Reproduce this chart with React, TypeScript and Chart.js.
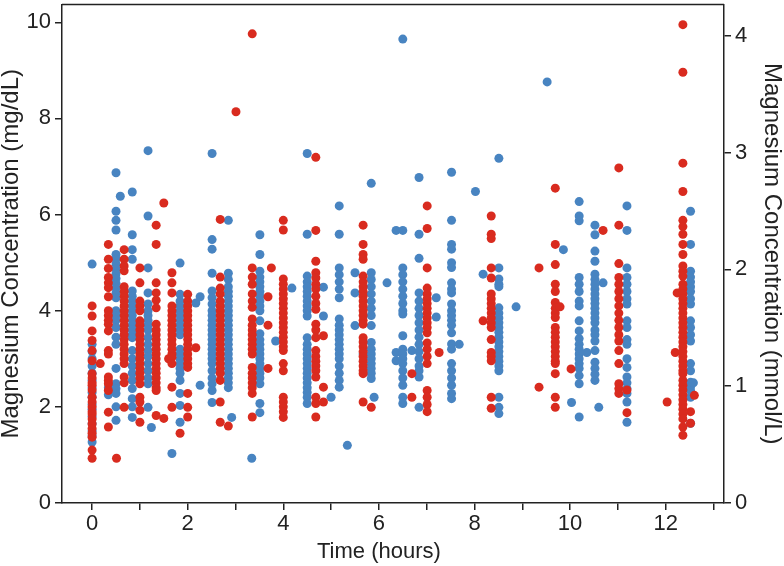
import React, { useEffect, useRef } from "react";
import { Chart, registerables } from "chart.js";

Chart.register(...registerables);

// Sampling times (hours) and Mg values (mg/dL) per column of points
const blueTimes = [0, 0.34, 0.5, 0.59, 0.84, 1.17, 1.24, 1.67, 1.84, 2.17, 2.26, 2.51, 2.85, 2.92, 3.34, 3.51, 3.84, 4.18, 4.5, 4.84, 5.0, 5.17, 5.34, 5.5, 5.67, 5.84, 5.9, 6.17, 6.36, 6.5, 6.69, 6.84, 7.2, 7.52, 7.68, 8.02, 8.18, 8.51, 8.87, 9.52, 9.86, 10.03, 10.19, 10.35, 10.52, 10.6, 10.69, 11.19, 12.52, 12.58];
const blueValues = [
  [4.97, 3.3, 3.15, 3.0, 2.85, 2.7, 2.55, 2.4, 2.3, 2.2, 2.05, 1.95, 1.8, 1.65, 1.5, 1.4, 1.27],
  [2.4, 2.25],
  [6.87, 6.07, 5.88, 5.68, 5.17, 5.07, 4.97, 4.87, 4.77, 4.67, 4.57, 4.47, 4.37, 4.27, 4.0, 3.9, 3.8, 3.65, 3.45, 3.3, 2.8, 2.48, 2.38, 2.28, 2.0, 1.72],
  [6.38],
  [6.47, 5.58, 5.27, 5.07, 4.41, 4.3, 4.2, 4.1, 4.0, 3.9, 3.8, 3.7, 3.6, 3.5, 3.44, 3.17, 3.0, 2.85, 2.7, 2.55, 2.38, 2.17, 2.0, 1.78],
  [7.33, 5.97, 4.89, 4.37, 4.14, 4.0, 3.9, 3.8, 3.7, 3.6, 3.44, 3.3, 3.17, 3.05, 2.9, 2.75, 2.6, 2.48, 1.99],
  [1.57],
  [1.03],
  [4.99, 4.34, 4.2, 4.1, 4.0, 3.9, 3.8, 3.7, 3.6, 3.5, 3.2, 3.1, 3.0, 2.9, 2.8, 2.7, 2.55, 2.28, 2.03, 1.68],
  [4.16],
  [4.29, 2.45],
  [7.27, 5.48, 5.28, 4.78, 4.41, 4.27, 4.14, 4.0, 3.9, 3.8, 3.7, 3.6, 3.5, 3.4, 3.3, 3.2, 3.1, 3.0, 2.9, 2.75, 2.6, 2.48, 2.34, 2.09],
  [5.88, 4.78, 4.65, 4.5, 4.4, 4.3, 4.2, 4.1, 4.0, 3.9, 3.8, 3.7, 3.6, 3.5, 3.4, 3.3, 3.2, 3.1, 3.0, 2.9, 2.8, 2.7, 2.6, 2.5, 2.4],
  [1.78],
  [0.93],
  [5.58, 5.17, 4.82, 4.7, 4.6, 4.5, 4.4, 4.3, 4.2, 4.1, 4.0, 3.79, 3.52, 3.4, 3.3, 3.2, 3.1, 3.0, 2.9, 2.8, 2.7, 2.6, 2.48, 2.07, 1.88],
  [3.37],
  [4.47],
  [7.27, 5.59, 4.72, 4.6, 4.5, 4.4, 4.3, 4.2, 4.1, 4.0, 3.89, 3.44, 3.3, 3.2, 3.1, 3.0, 2.9, 2.8, 2.7, 2.6, 2.5, 2.4, 2.3, 2.2, 2.07],
  [4.49, 3.89],
  [2.2],
  [6.18, 5.59, 4.89, 4.75, 4.6, 4.45, 4.27, 3.83, 3.7, 3.6, 3.5, 3.4, 3.3, 3.2, 3.1, 3.0, 2.85, 2.7, 2.55, 2.41],
  [1.2],
  [4.79, 4.37, 3.69],
  [3.1],
  [6.65, 4.79, 4.65, 4.5, 4.35, 4.2, 4.05, 3.9, 3.69, 3.34, 3.2, 3.1, 3.0, 2.9, 2.8, 2.7, 2.59],
  [2.2],
  [4.58],
  [5.67, 3.13, 2.96],
  [9.65, 5.67, 4.89, 4.75, 4.6, 4.45, 4.3, 4.15, 4.0, 3.93, 3.48, 3.2, 3.1, 3.0, 2.9, 2.75, 2.6, 2.45, 2.2, 2.07],
  [3.17],
  [6.77, 5.59, 5.09, 4.37, 4.2, 4.05, 3.9, 3.75, 3.6, 3.45, 3.3, 3.15, 3.0, 2.85, 2.75, 2.62, 1.99],
  [4.27, 3.87],
  [6.88, 5.88, 5.38, 5.28, 5.0, 4.9, 4.58, 4.45, 4.37, 4.14, 4.0, 3.9, 3.8, 3.7, 3.54, 3.31, 3.2, 2.9, 2.75, 2.6, 2.45, 2.28, 2.17],
  [3.3],
  [6.48],
  [4.76],
  [7.17, 4.89, 4.66, 4.55, 4.5, 4.06, 3.95, 3.85, 3.75, 3.65, 3.55, 3.45, 3.35, 3.25, 3.15, 3.05, 2.95, 2.85, 2.75, 2.2, 1.99, 1.86],
  [4.08],
  [8.76],
  [5.27],
  [2.09],
  [6.27, 5.97, 5.87, 4.69, 4.55, 4.4, 4.2, 4.1, 3.79, 3.58, 3.42, 3.3, 3.2, 3.1, 3.0, 2.9, 2.8, 2.65, 2.48, 1.79],
  [3.13],
  [5.78, 5.58, 5.24, 5.03, 4.76, 4.65, 4.55, 4.45, 4.35, 4.25, 4.15, 4.05, 3.95, 3.85, 3.75, 3.6, 3.5, 3.37, 3.17, 2.93, 2.8, 2.68, 2.55],
  [1.99],
  [4.58],
  [6.18, 5.67, 4.89, 4.69, 4.55, 4.4, 4.25, 4.14, 3.79, 3.65, 3.4, 3.3, 3.0, 2.82, 2.62, 2.5, 2.38, 2.28, 2.1, 1.68],
  [6.07, 5.38, 4.82, 4.7, 4.6, 4.5, 4.4, 4.25, 4.14, 3.79, 3.65, 3.5, 3.37, 2.9, 2.75, 2.51, 2.42, 2.34, 2.2, 1.66],
  [2.5],
];

const redTimes = [0, 0.17, 0.34, 0.51, 0.67, 1.0, 1.34, 1.5, 1.6, 1.67, 1.84, 2.0, 2.17, 2.68, 2.85, 3.01, 3.35, 3.68, 3.75, 4.0, 4.68, 4.84, 5.67, 5.84, 6.69, 7.01, 7.26, 8.18, 8.35, 9.35, 9.69, 9.79, 10.02, 10.69, 11.02, 11.19, 12.03, 12.2, 12.24, 12.36, 12.52, 12.6];
const redValues = [
  [4.1, 3.89, 3.58, 3.38, 3.17, 2.96, 2.69, 2.6, 2.5, 2.45, 2.35, 2.2, 2.1, 2.0, 1.9, 1.85, 1.75, 1.65, 1.55, 1.45, 1.37, 1.1, 0.93],
  [2.9],
  [5.38, 5.07, 4.88, 4.69, 4.58, 4.48, 4.29, 4.0, 3.9, 3.8, 3.72, 3.58, 3.17, 3.1, 2.62, 2.55, 2.48, 2.34, 1.89, 1.58],
  [0.93],
  [5.27, 5.07, 4.93, 4.83, 4.5, 4.4, 4.3, 4.2, 4.1, 4.0, 3.9, 3.8, 3.7, 3.6, 3.5, 3.4, 3.3, 3.2, 3.1, 3.0, 2.9, 2.62, 2.5, 1.99],
  [4.89, 4.58, 4.2, 4.1, 4.0, 3.79, 3.7, 3.6, 3.5, 3.4, 3.3, 3.2, 3.1, 3.0, 2.9, 2.8, 2.7, 2.6, 2.48, 2.2, 2.1, 1.93, 1.68],
  [5.78, 5.38, 4.58, 4.37, 4.22, 4.06, 3.72, 3.6, 3.5, 3.4, 3.3, 3.2, 3.1, 3.0, 2.9, 2.8, 2.7, 2.6, 2.5, 2.4, 2.34, 1.82],
  [6.24, 1.76],
  [3.0],
  [4.79, 4.58, 4.37, 4.1, 4.0, 3.9, 3.8, 3.7, 3.6, 3.5, 3.4, 3.3, 3.2, 3.1, 3.03, 2.9, 2.41, 1.99],
  [1.45],
  [4.34, 4.2, 4.1, 4.0, 3.9, 3.8, 3.7, 3.6, 3.5, 3.4, 3.3, 3.2, 3.1, 3.0, 2.9, 2.82, 2.28, 1.99, 1.79],
  [3.23],
  [5.9, 4.7, 4.47, 4.35, 4.2, 4.1, 4.0, 3.9, 3.8, 3.7, 3.6, 3.5, 3.4, 3.3, 3.2, 3.1, 3.0, 2.9, 2.8, 2.7, 2.55, 2.1, 1.68],
  [1.6],
  [8.14],
  [9.76, 4.89, 4.7, 4.55, 4.35, 4.2, 4.07, 3.83, 3.7, 3.6, 3.5, 3.4, 3.3, 3.2, 3.1, 2.82, 2.7, 2.6, 2.5, 2.4, 2.28, 1.79],
  [4.29, 3.7, 2.8],
  [4.89],
  [5.88, 5.68, 4.66, 4.55, 4.45, 4.35, 4.25, 4.15, 4.05, 3.95, 3.85, 3.75, 3.65, 3.55, 3.45, 3.35, 3.25, 3.17, 2.9, 2.75, 2.2, 2.1, 2.0, 1.9, 1.78],
  [7.19, 5.67, 5.03, 4.79, 4.68, 4.55, 4.45, 4.3, 4.15, 4.03, 3.72, 3.6, 3.44, 3.17, 3.05, 2.95, 2.85, 2.75, 2.62, 2.2, 2.07, 1.79],
  [3.48, 2.41, 2.1],
  [5.78, 5.38, 5.17, 5.07, 4.72, 4.6, 4.5, 4.4, 4.3, 4.2, 4.1, 4.0, 3.9, 3.8, 3.72, 3.44, 3.35, 3.25, 3.15, 3.05, 2.95, 2.85, 2.75, 2.69, 2.1],
  [1.99],
  [2.69, 2.2],
  [6.18, 5.71, 4.89, 4.47, 4.35, 4.25, 4.15, 4.05, 3.95, 3.85, 3.75, 3.65, 3.54, 3.33, 3.2, 3.05, 2.9, 2.34, 2.2, 2.05, 1.9],
  [3.13],
  [3.79],
  [5.97, 5.59, 5.5, 4.89, 4.68, 4.35, 4.25, 4.15, 4.05, 3.95, 3.85, 3.75, 3.65, 3.4, 3.13, 3.05, 2.96, 2.2, 1.97],
  [4.89, 2.41],
  [6.55, 5.38, 4.96, 4.55, 4.4, 4.17, 4.05, 3.95, 3.86, 3.65, 3.55, 3.45, 3.35, 3.25, 3.15, 3.05, 2.95, 2.9, 2.69, 2.2, 1.99],
  [4.08],
  [2.79],
  [5.67],
  [6.97, 5.78, 4.98, 4.69, 4.55, 4.4, 4.25, 4.1, 3.95, 3.8, 3.65, 3.5, 3.37, 3.17, 2.9, 2.48, 2.38, 2.28],
  [2.35, 1.88],
  [2.1],
  [3.13],
  [4.37],
  [9.95, 8.96, 7.07, 6.48, 5.88, 5.75, 5.59, 5.38, 5.17, 4.93, 4.82, 4.72, 4.55, 4.45, 4.35, 4.25, 4.15, 4.05, 3.95, 3.85, 3.75, 3.65, 3.55, 3.45, 3.35, 3.25, 3.15, 3.05, 2.95, 2.85, 2.75, 2.69, 2.55, 2.45, 2.35, 2.25, 2.15, 2.05, 1.95, 1.85, 1.75, 1.58, 1.41],
  [1.9, 1.66],
  [2.24],
];

const xTickLabels = ["0", "2", "4", "6", "8", "10", "12"];
const X_TITLE = "Time (hours)";
const X_TITLE_CENTER = 6; // title centred under the 0–12 h tick range
const MG_PER_MMOL = 2.43;
const Y_MAX = 10.37;

const BLUE = "#4884c1";
const RED = "#d92b1f";
const FONT = "'Liberation Sans', Arial, sans-serif";
const TICK_FONT = "'Liberation Sans Narrow', 'Arial Narrow', 'Liberation Sans', sans-serif";

function toPoints(times: number[], values: number[][]) {
  const pts: { x: number; y: number }[] = [];
  times.forEach((t, i) => values[i].forEach((v) => pts.push({ x: t, y: v })));
  return pts;
}

const framePlugin = {
  id: "frame",
  afterDraw(chart: any) {
    const { ctx, chartArea: a } = chart;
    ctx.save();
    ctx.strokeStyle = "#222";
    ctx.lineWidth = 1.5;
    ctx.beginPath();
    ctx.moveTo(a.left, a.top);
    ctx.lineTo(a.right, a.top);
    ctx.stroke();
    // x-axis title, centred on the labelled tick range
    const xs = chart.scales.x;
    ctx.fillStyle = "#222";
    ctx.font = `22px ${FONT}`;
    ctx.textAlign = "center";
    ctx.textBaseline = "middle";
    ctx.fillText(X_TITLE, xs.getPixelForValue(X_TITLE_CENTER), xs.bottom - 14);
    ctx.restore();
  },
};

const fitV = (w: number) => (s: any) => {
  s.width = w;
  s.paddingTop = 0;
  s.paddingBottom = 0;
};

export default function App() {
  const ref = useRef<HTMLCanvasElement>(null);
  useEffect(() => {
    if (!ref.current) return;
    const chart = new Chart(ref.current, {
      type: "scatter",
      data: {
        datasets: [
          {
            label: "red",
            data: toPoints(redTimes, redValues),
            backgroundColor: RED,
            borderWidth: 0,
            pointRadius: 4.5,
            yAxisID: "y",
          },
          {
            label: "blue",
            data: toPoints(blueTimes, blueValues),
            backgroundColor: BLUE,
            borderWidth: 0,
            pointRadius: 4.5,
            yAxisID: "y",
          },
        ],
      },
      options: {
        animation: false,
        responsive: false,
        devicePixelRatio: 1,
        layout: { padding: { top: 2, left: 0, right: 0, bottom: 0 } },
        plugins: { legend: { display: false }, tooltip: { enabled: false } },
        scales: {
          x: {
            type: "linear",
            min: -0.63,
            max: 13.22,
            afterFit: (s: any) => { s.height = 63; s.paddingLeft = 0; s.paddingRight = 0; },
            border: { display: true, color: "#222", width: 1.5 },
            grid: { drawOnChartArea: false, tickLength: 7, color: "#222", lineWidth: 1.5 },
            ticks: {
              stepSize: 1,
              includeBounds: false,
              autoSkip: false,
              maxRotation: 0,
              padding: 1,
              color: "#222",
              font: { family: TICK_FONT, size: 22 },
              callback: (v: any) => {
                const n = Number(v);
                return n % 2 === 0 ? xTickLabels[n / 2] ?? "" : "";
              },
            },
            title: { display: false },
          },
          y: {
            position: "left",
            min: 0,
            max: Y_MAX,
            afterFit: fitV(62),
            border: { display: true, color: "#222", width: 1.5 },
            grid: { drawOnChartArea: false, tickLength: 7, color: "#222", lineWidth: 1.5 },
            ticks: {
              stepSize: 2,
              includeBounds: false,
              padding: 4,
              color: "#222",
              font: { family: TICK_FONT, size: 22 },
            },
            title: {
              display: true,
              text: "Magnesium Concentration (mg/dL)",
              color: "#222",
              font: { family: FONT, size: 24 },
              padding: { top: -3, bottom: 0 },
            },
          },
          y2: {
            position: "right",
            min: 0,
            max: Y_MAX / MG_PER_MMOL,
            afterFit: fitV(60),
            border: { display: true, color: "#222", width: 1.5 },
            grid: { drawOnChartArea: false, tickLength: 7, color: "#222", lineWidth: 1.5 },
            ticks: {
              stepSize: 1,
              includeBounds: false,
              padding: 4,
              color: "#222",
              font: { family: TICK_FONT, size: 22 },
            },
            title: {
              display: true,
              text: "Magnesium Concentration (mmol/L)",
              color: "#222",
              font: { family: FONT, size: 24 },
              padding: { top: -2, bottom: 0 },
            },
          },
        },
      },
      plugins: [framePlugin],
    });
    return () => chart.destroy();
  }, []);
  return (
    <div style={{ position: "absolute", left: 0, top: 0, width: 784, height: 566, background: "#fff" }}>
      <canvas ref={ref} width={784} height={566} />
    </div>
  );
}
